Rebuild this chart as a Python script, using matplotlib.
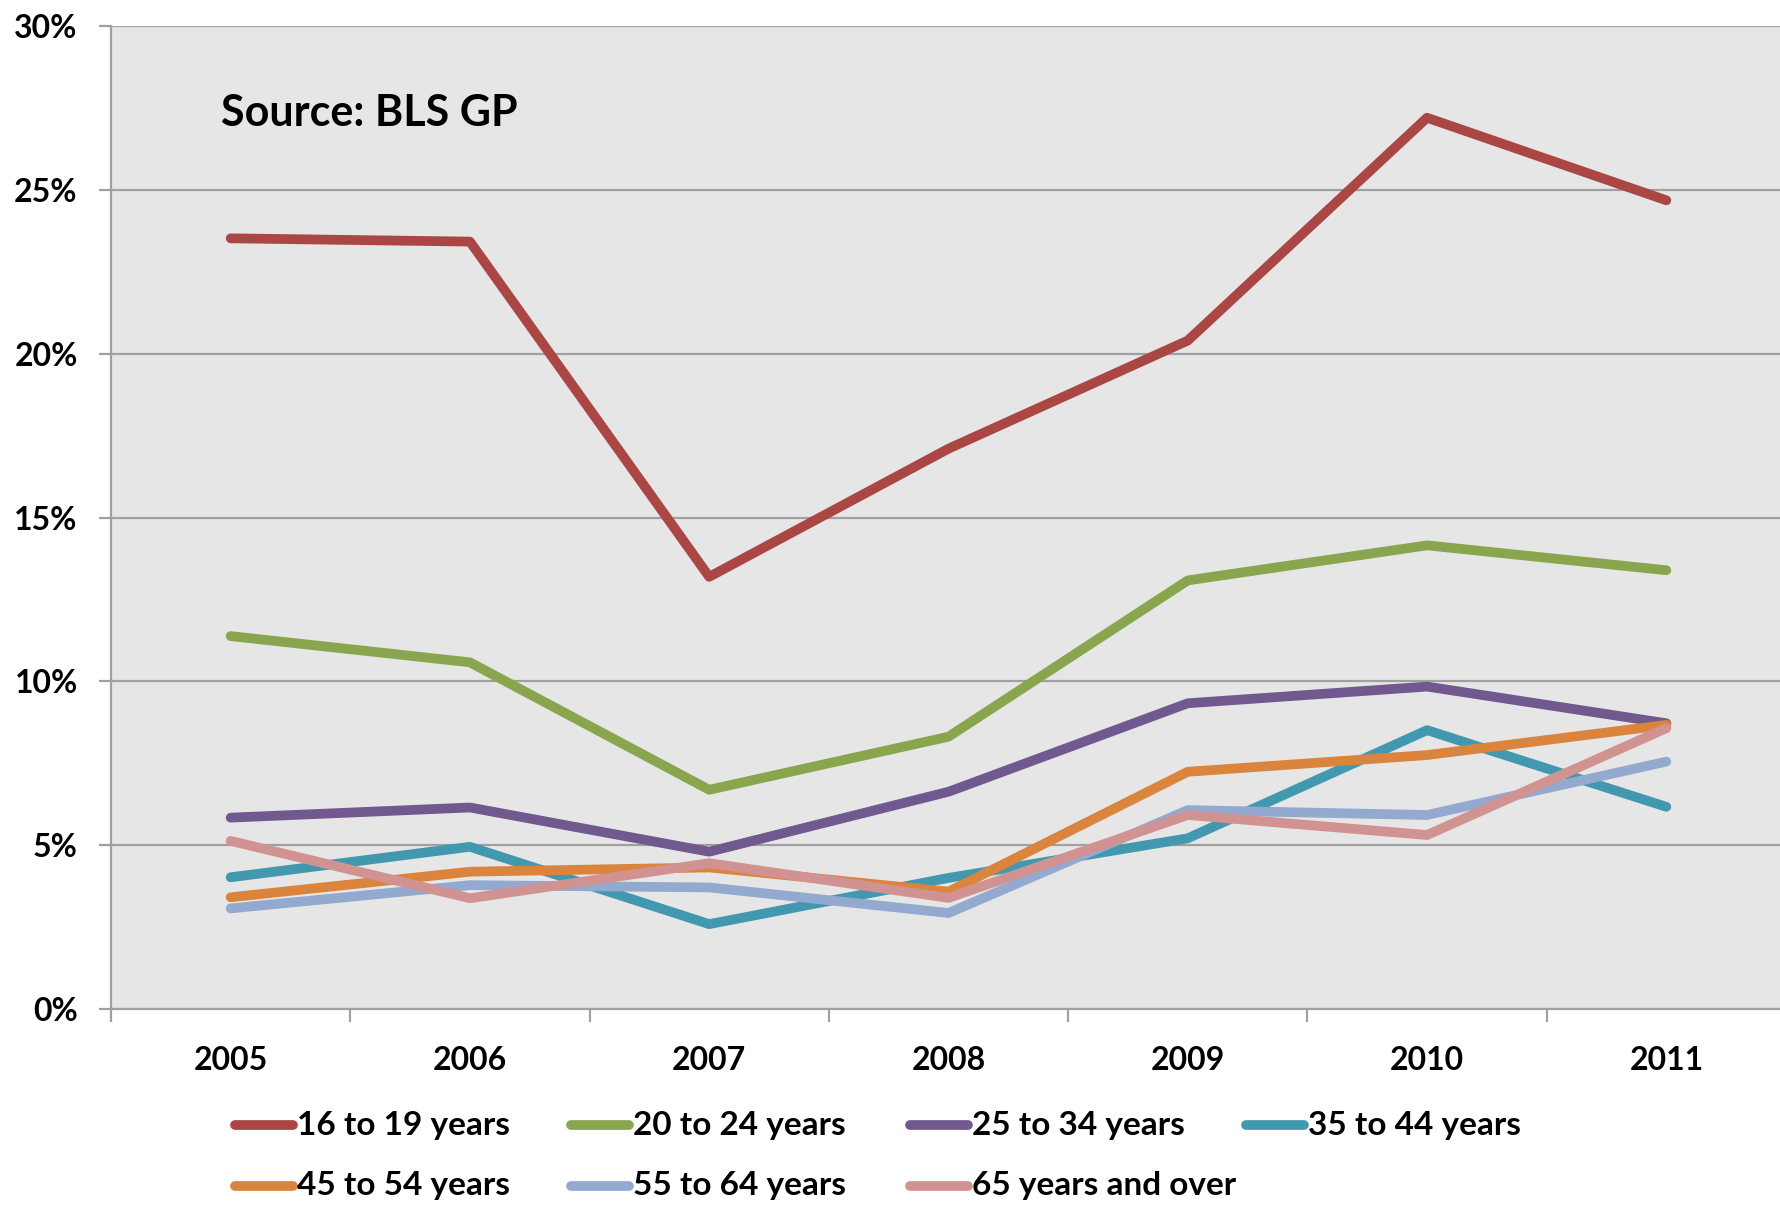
import matplotlib
matplotlib.use("Agg")
import matplotlib.pyplot as plt
from matplotlib.lines import Line2D
from matplotlib.ticker import FuncFormatter, FixedLocator

years = ["2005", "2006", "2007", "2008", "2009", "2010", "2011"]
labels = ["16 to 19 years", "20 to 24 years", "25 to 34 years", "35 to 44 years",
          "45 to 54 years", "55 to 64 years", "65 years and over"]

age_16_19 = [23.52, 23.42, 13.19, 17.10, 20.40, 27.20, 24.68]
age_20_24 = [11.38, 10.58, 6.69, 8.31, 13.08, 14.15, 13.39]
age_25_34 = [5.84, 6.15, 4.80, 6.63, 9.33, 9.84, 8.72]
age_35_44 = [4.02, 4.95, 2.59, 4.00, 5.21, 8.51, 6.17]
age_45_54 = [3.41, 4.19, 4.32, 3.58, 7.24, 7.75, 8.67]
age_55_64 = [3.07, 3.78, 3.71, 2.93, 6.07, 5.92, 7.55]
age_65_up = [5.13, 3.38, 4.45, 3.39, 5.92, 5.31, 8.57]

series = [age_16_19, age_20_24, age_25_34, age_35_44, age_45_54, age_55_64, age_65_up]
colors = ["#AA4643", "#89A54E", "#71588F", "#4198AF", "#DB843D", "#93A9CF", "#D19392"]

plt.rcParams['font.family'] = ['Lato', 'DejaVu Sans']
plt.rcParams['font.weight'] = 'bold'

W, H = 1780, 1205
fig = plt.figure(figsize=(W / 100, H / 100), dpi=100)
fig.patch.set_facecolor("white")

left, right, top, bottom = 111, 1786, 26, 1009
ax = fig.add_axes([left / W, 1 - bottom / H, (right - left) / W, (bottom - top) / H])
ax.set_facecolor("#E6E6E6")

grid_c = "#A0A0A0"
x = list(range(len(years)))
lw = 7.0
for s, c in zip(series, colors):
    ax.plot(x, [v / 100 for v in s], color=c, lw=lw, solid_capstyle='round',
            solid_joinstyle='round', zorder=3, clip_on=False)

ax.set_xlim(-0.5, len(years) - 0.5)
ax.set_ylim(0, 0.30)

yt = [0, 0.05, 0.10, 0.15, 0.20, 0.25, 0.30]
ax.set_yticks(yt)
ax.yaxis.set_major_formatter(FuncFormatter(lambda v, p: f"{v*100:.0f}%"))
ax.yaxis.grid(True, color=grid_c, lw=1.6, zorder=1)
ax.set_axisbelow(True)

ax.set_xticks(x)
ax.set_xticklabels(years)
ax.xaxis.set_minor_locator(FixedLocator([i - 0.5 for i in range(len(years) + 1)]))
ax.tick_params(axis='x', which='major', length=0, pad=27, labelsize=23, labelcolor='black')
ax.tick_params(axis='x', which='minor', length=9, width=1.6, color=grid_c, direction='out')
ax.tick_params(axis='y', which='major', length=9, width=1.6, color=grid_c, direction='out',
               pad=15, labelsize=23, labelcolor='black')
for lab in ax.get_xticklabels() + ax.get_yticklabels():
    lab.set_fontweight('bold')

for sp in ["top", "right"]:
    ax.spines[sp].set_visible(False)
for sp in ["left", "bottom"]:
    ax.spines[sp].set_color(grid_c)
    ax.spines[sp].set_linewidth(1.6)

fig.text(221 / W, 1 - 126 / H, "Source: BLS GP", fontsize=31, fontweight='bold',
         color='black', ha='left', va='baseline')

# legend drawn manually (Excel-style even columns)
col_handle = [235, 571, 910, 1246]
row_y = [1125, 1186]
hlen = 58
for i, (lab, c) in enumerate(zip(labels, colors)):
    r, cidx = divmod(i, 4)
    x0 = col_handle[cidx]
    y0 = 1 - row_y[r] / H
    fig.add_artist(Line2D([x0 / W, (x0 + hlen) / W], [y0, y0], color=c, lw=lw,
                          solid_capstyle='round', transform=fig.transFigure))
    fig.text((x0 + hlen + 4) / W, y0, lab, fontsize=24, fontweight='bold',
             color='black', ha='left', va='center')

fig.savefig("out.png", dpi=100, facecolor="white")
